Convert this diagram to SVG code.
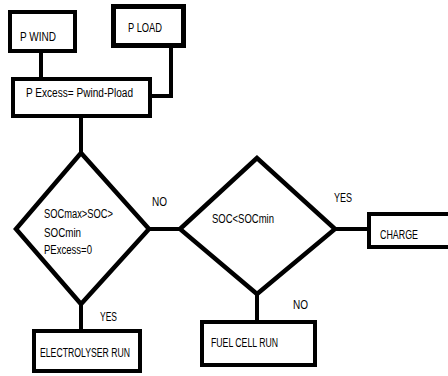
<svg xmlns="http://www.w3.org/2000/svg" width="448" height="376" viewBox="0 0 448 376">
<style>
.box{fill:#fff;stroke:#000;stroke-width:4}
.dia{fill:#fff;stroke:#000;stroke-width:4.5;stroke-linejoin:miter}
.ln{fill:none;stroke:#000;stroke-width:4}
text{font-family:"Liberation Sans",Arial,sans-serif;font-size:12px;fill:#000}
</style>
<rect width="448" height="376" fill="#fff"/>
<g id="connectors">
<line class="ln" x1="41" y1="51" x2="41" y2="79"/>
<path class="ln" d="M171,46 V96 H150"/>
<line class="ln" x1="81" y1="116" x2="81" y2="152"/>
<line class="ln" x1="149" y1="229" x2="180" y2="229"/>
<line class="ln" x1="335" y1="229" x2="369" y2="229"/>
<line class="ln" x1="257" y1="294" x2="257" y2="322"/>
<line class="ln" x1="81" y1="304" x2="81" y2="331"/>
<text x="152" y="206" textLength="15" lengthAdjust="spacingAndGlyphs">NO</text>
<text x="100" y="321" textLength="17" lengthAdjust="spacingAndGlyphs">YES</text>
<text x="334" y="202" textLength="18" lengthAdjust="spacingAndGlyphs">YES</text>
<text x="293" y="309" textLength="15" lengthAdjust="spacingAndGlyphs">NO</text>
</g>
<g id="pwind">
<rect class="box" x="10" y="12" width="65" height="39"/>
<text x="20" y="41" textLength="36" lengthAdjust="spacingAndGlyphs">P WIND</text>
</g>
<g id="pload">
<rect class="box" x="113.5" y="6.5" width="70" height="39" style="stroke-width:5"/>
<text x="128" y="32" textLength="34" lengthAdjust="spacingAndGlyphs">P LOAD</text>
</g>
<g id="pexcess">
<rect class="box" x="13" y="79" width="137" height="37"/>
<text x="26" y="97" textLength="107" lengthAdjust="spacingAndGlyphs">P Excess= Pwind-Pload</text>
</g>
<g id="decision1">
<polygon class="dia" points="81,153 16,229 81,304 149,229"/>
<text x="44" y="218" textLength="69" lengthAdjust="spacingAndGlyphs">SOCmax&gt;SOC&gt;</text>
<text x="44" y="237" textLength="37" lengthAdjust="spacingAndGlyphs">SOCmin</text>
<text x="44" y="254" textLength="48" lengthAdjust="spacingAndGlyphs">PExcess=0</text>
</g>
<g id="decision2">
<polygon class="dia" points="257,158 180,229 257,294 335,229"/>
<text x="212" y="223" textLength="62" lengthAdjust="spacingAndGlyphs">SOC&lt;SOCmin</text>
</g>
<g id="charge">
<rect class="box" x="369" y="214" width="100" height="33"/>
<text x="380" y="239" textLength="38" lengthAdjust="spacingAndGlyphs">CHARGE</text>
</g>
<g id="fuelcell">
<rect class="box" x="202" y="322" width="113" height="43"/>
<text x="211" y="347" textLength="67" lengthAdjust="spacingAndGlyphs">FUEL CELL RUN</text>
</g>
<g id="electrolyser">
<rect class="box" x="34" y="331" width="106" height="40"/>
<text x="40" y="357" textLength="90" lengthAdjust="spacingAndGlyphs">ELECTROLYSER RUN</text>
</g>
</svg>
